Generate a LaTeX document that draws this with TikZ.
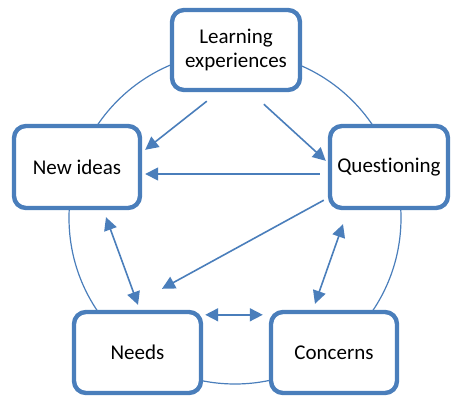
\documentclass[tikz,border=0pt]{standalone}
\usepackage{fontspec}
\setmainfont{Carlito}[RawFeature=-liga]
\usetikzlibrary{arrows.meta,calc}
\definecolor{boxblue}{RGB}{74,126,187}
\begin{document}
\begin{tikzpicture}[x=1pt,y=-1pt,
  box/.style={draw=boxblue,line width=4.4pt,rounded corners=12pt,fill=white,
    inner sep=0pt,align=center,font=\fontsize{21}{23.5}\selectfont},
  conn/.style={draw=boxblue,line width=1.6pt,-{Triangle[length=13pt,width=13pt]}},
  dconn/.style={draw=boxblue,line width=1.6pt,{Triangle[length=13pt,width=13pt]}-{Triangle[length=13pt,width=13pt]}},
  ring/.style={draw=boxblue,line width=1.2pt}]
\useasboundingbox (0,0) rectangle (453,398);
\draw[ring] (235,218) circle (166);
\node[box,minimum width=128pt,minimum height=80pt] (le) at (236,50) {Learning\\experiences};
\node[box,minimum width=126pt,minimum height=82pt] (ni) at (77,167) {New ideas};
\node[box,minimum width=118pt,minimum height=82pt] (q) at (389,167) {Questioning};
\node[box,minimum width=127pt,minimum height=81pt] (nd) at (137.5,352.5) {Needs};
\node[box,minimum width=126pt,minimum height=81pt] (cc) at (334,352.5) {Concerns};
\draw[conn] ($(le.south west)+(37,9)$) -- ($(ni.north east)+(3,26)$);
\draw[conn] ($(le.south west)+(94,12)$) -- ($(q.north west)+(-2,37)$);
\draw[conn] ($(q.west)+(-8,7)$) -- ($(ni.east)+(3,7)$);
\draw[conn] ($(q.south west)+(-4,-10)$) -- ($(nd.north)+(24.5,-21)$);
\draw[dconn] ($(ni.south)+(29,7)$) -- ($(nd.north)+(0.5,-5)$);
\draw[dconn] ($(q.south)+(-46,14)$) -- ($(cc.north)+(-19,-6)$);
\draw[dconn] ($(nd.north east)+(2,5)$) -- ($(cc.north west)+(-6,5)$);
\end{tikzpicture}
\end{document}
